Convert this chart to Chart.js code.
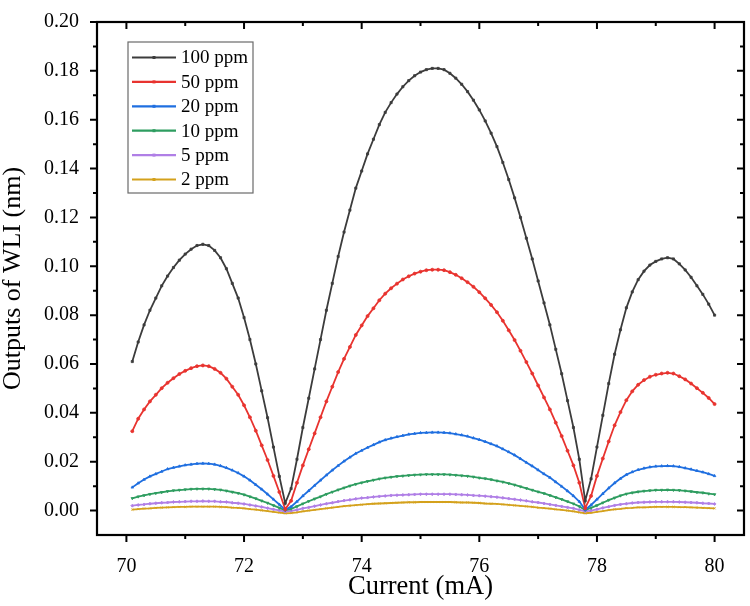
<!DOCTYPE html>
<html>
<head>
<meta charset="utf-8">
<script src="https://cdn.jsdelivr.net/npm/chart.js@4.4.1/dist/chart.umd.min.js"></script>
<style>
  body { margin: 0; background: #fff; }
  #wrap { width: 750px; height: 606px; }
</style>
</head>
<body>
<div id="wrap"><canvas id="wliChart" width="750" height="606"></canvas></div>
<script>
// Current (mA)
const currents = [
  70.1, 70.2, 70.3, 70.4, 70.5, 70.6, 70.7, 70.8, 70.9, 71.0,
  71.1, 71.2, 71.3, 71.4, 71.5, 71.6, 71.7, 71.8, 71.9, 72.0,
  72.1, 72.2, 72.3, 72.4, 72.5, 72.6, 72.7, 72.8, 72.9, 73.0,
  73.1, 73.2, 73.3, 73.4, 73.5, 73.6, 73.7, 73.8, 73.9, 74.0,
  74.1, 74.2, 74.3, 74.4, 74.5, 74.6, 74.7, 74.8, 74.9, 75.0,
  75.1, 75.2, 75.3, 75.4, 75.5, 75.6, 75.7, 75.8, 75.9, 76.0,
  76.1, 76.2, 76.3, 76.4, 76.5, 76.6, 76.7, 76.8, 76.9, 77.0,
  77.1, 77.2, 77.3, 77.4, 77.5, 77.6, 77.7, 77.8, 77.9, 78.0,
  78.1, 78.2, 78.3, 78.4, 78.5, 78.6, 78.7, 78.8, 78.9, 79.0,
  79.1, 79.2, 79.3, 79.4, 79.5, 79.6, 79.7, 79.8, 79.9, 80.0
];

// Outputs of WLI (nm)
const ppm100 = [
  0.061, 0.069, 0.076, 0.082, 0.087, 0.092, 0.096, 0.0995, 0.1025, 0.105,
  0.107, 0.1085, 0.109, 0.1085, 0.1065, 0.1035, 0.099, 0.093, 0.087, 0.079,
  0.070, 0.060, 0.049, 0.038, 0.026, 0.014, 0.003, 0.009, 0.021, 0.034,
  0.046, 0.058, 0.070, 0.082, 0.093, 0.104, 0.114, 0.123, 0.132, 0.139,
  0.146, 0.152, 0.158, 0.163, 0.167, 0.1705, 0.1735, 0.176, 0.178, 0.1795,
  0.1805, 0.181, 0.181, 0.1805, 0.179, 0.177, 0.1745, 0.1715, 0.168, 0.164,
  0.1595, 0.1545, 0.149, 0.1425, 0.1355, 0.128, 0.120, 0.1115, 0.103, 0.094,
  0.085, 0.076, 0.066, 0.056, 0.045, 0.034, 0.021, 0.004, 0.013, 0.026,
  0.039, 0.052, 0.064, 0.074, 0.083, 0.0895, 0.0945, 0.098, 0.1005, 0.102,
  0.103, 0.1035, 0.103, 0.101, 0.0985, 0.0955, 0.092, 0.0885, 0.0845, 0.080
];
const ppm50 = [
  0.0325, 0.0376, 0.0414, 0.0447, 0.0474, 0.0501, 0.0523, 0.0542, 0.0559, 0.0572,
  0.0583, 0.0591, 0.0594, 0.0591, 0.058, 0.0564, 0.054, 0.0507, 0.0474, 0.0431,
  0.0382, 0.0327, 0.0267, 0.0207, 0.0142, 0.0076, 0.0005, 0.004, 0.0114, 0.0185,
  0.0251, 0.0316, 0.0382, 0.0447, 0.0507, 0.0567, 0.0621, 0.067, 0.0719, 0.0758,
  0.0796, 0.0828, 0.0861, 0.0888, 0.091, 0.0929, 0.0946, 0.0959, 0.097, 0.0978,
  0.0984, 0.0986, 0.0986, 0.0984, 0.0976, 0.0965, 0.0951, 0.0935, 0.0916, 0.0894,
  0.0869, 0.0842, 0.0812, 0.0777, 0.0738, 0.0698, 0.0654, 0.0608, 0.0561, 0.0512,
  0.0463, 0.0414, 0.036, 0.0305, 0.0245, 0.0185, 0.0114, 0.001, 0.006, 0.0142,
  0.0213, 0.0283, 0.0349, 0.0403, 0.0452, 0.0488, 0.0515, 0.0534, 0.0548, 0.0556,
  0.0561, 0.0564, 0.0561, 0.055, 0.0537, 0.052, 0.0501, 0.0482, 0.0461, 0.0436
];
const ppm20 = [
  0.0095, 0.0112, 0.0127, 0.014, 0.015, 0.016, 0.017, 0.0176, 0.0181, 0.0186,
  0.0189, 0.0192, 0.0193, 0.0192, 0.0189, 0.0183, 0.0175, 0.0165, 0.0154, 0.014,
  0.0124, 0.0106, 0.0087, 0.0067, 0.0046, 0.0025, 0.0003, 0.0016, 0.0037, 0.006,
  0.0081, 0.0103, 0.0124, 0.0145, 0.0165, 0.0184, 0.0202, 0.0218, 0.0234, 0.0246,
  0.0258, 0.0269, 0.028, 0.0289, 0.0296, 0.0302, 0.0307, 0.0312, 0.0315, 0.0318,
  0.0319, 0.032, 0.032, 0.0319, 0.0317, 0.0313, 0.0309, 0.0304, 0.0297, 0.029,
  0.0282, 0.0273, 0.0264, 0.0252, 0.024, 0.0227, 0.0212, 0.0197, 0.0182, 0.0166,
  0.015, 0.0135, 0.0117, 0.0099, 0.008, 0.006, 0.0037, 0.0004, 0.0023, 0.0046,
  0.0069, 0.0092, 0.0113, 0.0131, 0.0147, 0.0158, 0.0167, 0.0173, 0.0178, 0.0181,
  0.0182, 0.0183, 0.0182, 0.0179, 0.0174, 0.0169, 0.0163, 0.0157, 0.015, 0.0142
];
const ppm10 = [
  0.005, 0.0057, 0.0062, 0.0067, 0.0071, 0.0075, 0.0079, 0.0082, 0.0084, 0.0086,
  0.0088, 0.0089, 0.0089, 0.0089, 0.0087, 0.0085, 0.0081, 0.0076, 0.0071, 0.0065,
  0.0057, 0.0049, 0.004, 0.0031, 0.0021, 0.0011, 0.0001, 0.0007, 0.0017, 0.0028,
  0.0038, 0.0048, 0.0057, 0.0067, 0.0076, 0.0085, 0.0093, 0.0101, 0.0108, 0.0114,
  0.012, 0.0125, 0.013, 0.0134, 0.0137, 0.014, 0.0142, 0.0144, 0.0146, 0.0147,
  0.0148, 0.0148, 0.0148, 0.0148, 0.0147, 0.0145, 0.0143, 0.0141, 0.0138, 0.0134,
  0.0131, 0.0127, 0.0122, 0.0117, 0.0111, 0.0105, 0.0098, 0.0091, 0.0084, 0.0077,
  0.007, 0.0062, 0.0054, 0.0046, 0.0037, 0.0028, 0.0017, 0.0002, 0.0011, 0.0021,
  0.0032, 0.0043, 0.0052, 0.0061, 0.0068, 0.0073, 0.0077, 0.008, 0.0082, 0.0084,
  0.0084, 0.0085, 0.0084, 0.0083, 0.0081, 0.0078, 0.0075, 0.0073, 0.0069, 0.0066
];
const ppm5 = [
  0.002, 0.0023, 0.0025, 0.0028, 0.003, 0.0032, 0.0033, 0.0035, 0.0036, 0.0037,
  0.0038, 0.0038, 0.0039, 0.0038, 0.0038, 0.0036, 0.0035, 0.0032, 0.003, 0.0027,
  0.0023, 0.0019, 0.0015, 0.001, 0.0005, 0.0001, -0.0004, -0.0001, 0.0003, 0.0009,
  0.0013, 0.0018, 0.0023, 0.0028, 0.0032, 0.0037, 0.0041, 0.0044, 0.0048, 0.0051,
  0.0053, 0.0056, 0.0058, 0.006, 0.0062, 0.0063, 0.0064, 0.0065, 0.0066, 0.0067,
  0.0067, 0.0067, 0.0067, 0.0067, 0.0067, 0.0066, 0.0065, 0.0064, 0.0062, 0.0061,
  0.0059, 0.0057, 0.0055, 0.0052, 0.0049, 0.0046, 0.0043, 0.004, 0.0036, 0.0033,
  0.0029, 0.0025, 0.0021, 0.0017, 0.0013, 0.0009, 0.0003, -0.0003, 0, 0.0005,
  0.0011, 0.0016, 0.0021, 0.0025, 0.0028, 0.0031, 0.0033, 0.0034, 0.0035, 0.0036,
  0.0036, 0.0036, 0.0036, 0.0035, 0.0034, 0.0033, 0.0032, 0.003, 0.0029, 0.0027
];
const ppm2 = [
  0.0004, 0.0006, 0.0008, 0.0009, 0.0011, 0.0012, 0.0013, 0.0014, 0.0015, 0.0015,
  0.0016, 0.0016, 0.0016, 0.0016, 0.0016, 0.0015, 0.0014, 0.0012, 0.0011, 0.0009,
  0.0006, 0.0004, 0.0001, -0.0002, -0.0005, -0.0008, -0.0011, -0.001, -0.0007, -0.0003,
  0, 0.0003, 0.0006, 0.0009, 0.0012, 0.0015, 0.0018, 0.002, 0.0022, 0.0024,
  0.0026, 0.0028, 0.0029, 0.003, 0.0031, 0.0032, 0.0033, 0.0034, 0.0034, 0.0035,
  0.0035, 0.0035, 0.0035, 0.0035, 0.0035, 0.0034, 0.0033, 0.0033, 0.0032, 0.0031,
  0.0029, 0.0028, 0.0027, 0.0025, 0.0023, 0.0021, 0.0019, 0.0017, 0.0015, 0.0012,
  0.001, 0.0008, 0.0005, 0.0003, 0, -0.0003, -0.0007, -0.0011, -0.0009, -0.0005,
  -0.0002, 0.0002, 0.0005, 0.0007, 0.001, 0.0011, 0.0013, 0.0013, 0.0014, 0.0015,
  0.0015, 0.0015, 0.0015, 0.0014, 0.0014, 0.0013, 0.0012, 0.0011, 0.001, 0.0009
];

const seriesNames = ['100 ppm', '50 ppm', '20 ppm', '10 ppm', '5 ppm', '2 ppm'];
const xTicks = [70, 72, 74, 76, 78, 80];
const yTicks = [0.00, 0.02, 0.04, 0.06, 0.08, 0.10, 0.12, 0.14, 0.16, 0.18, 0.20];

const allSeries = [ppm100, ppm50, ppm20, ppm10, ppm5, ppm2];
const colors = ['#3c3c3c', '#e8332f', '#1f6fe0', '#2e9d60', '#b07fe6', '#d4a11c'];
const shapes = ['rect', 'circle', 'triangle', 'triangle', 'rectRot', 'crossRot'];
const serif = "'Liberation Serif', 'Times New Roman', serif";

function toPoints(vals) {
    return currents.map((x, i) => ({ x: x, y: vals[i] }));
}

// frame with inward/outward ticks + legend box inside the plot
const frameAndLegend = {
    id: 'frameAndLegend',
    afterDraw(chart) {
        const ctx = chart.ctx;
        const a = chart.chartArea;
        const xs = chart.scales.x, ys = chart.scales.y;
        ctx.save();
        ctx.strokeStyle = '#000';
        ctx.lineWidth = 2.2;
        ctx.strokeRect(a.left, a.top, a.right - a.left, a.bottom - a.top);

        ctx.lineWidth = 2;
        ctx.beginPath();
        for (let v = 70; v <= 80; v++) {
            const px = xs.getPixelForValue(v);
            const len = v % 2 === 0 ? 7 : 4;
            ctx.moveTo(px, a.bottom); ctx.lineTo(px, a.bottom + len);
            ctx.moveTo(px, a.top); ctx.lineTo(px, a.top + len);
        }
        for (let k = 0; k <= 20; k++) {
            const py = ys.getPixelForValue(k / 100);
            const len = k % 2 === 0 ? 7 : 4;
            ctx.moveTo(a.left, py); ctx.lineTo(a.left - len, py);
            ctx.moveTo(a.right, py); ctx.lineTo(a.right - len, py);
        }
        ctx.stroke();

        // legend
        const bx = 128, by = 42, bw = 125, bh = 151;
        ctx.lineWidth = 1.2;
        ctx.strokeStyle = '#6a6a6a';
        ctx.strokeRect(bx, by, bw, bh);
        ctx.font = '19px ' + serif;
        ctx.textBaseline = 'middle';
        ctx.textAlign = 'left';
        chart.data.datasets.forEach((ds, i) => {
            const y = 57.5 + i * 24.4;
            ctx.strokeStyle = ds.borderColor;
            ctx.lineWidth = 2.2;
            ctx.beginPath();
            ctx.moveTo(132, y); ctx.lineTo(176, y);
            ctx.stroke();
            ctx.fillStyle = ds.borderColor;
            ctx.fillRect(152.5, y - 1.5, 3, 3);
            ctx.fillStyle = '#000';
            ctx.fillText(ds.label, 181, y + 1);
        });
        ctx.restore();
    }
};

const ctx = document.getElementById('wliChart').getContext('2d');
new Chart(ctx, {
    type: 'line',
    data: {
        datasets: allSeries.map((vals, i) => ({
            label: seriesNames[i],
            data: toPoints(vals),
            borderColor: colors[i],
            backgroundColor: colors[i],
            borderWidth: 1.8,
            pointRadius: 1.5,
            pointStyle: shapes[i],
            pointRotation: i === 3 ? 180 : 0,
            pointBorderWidth: 0.8,
            tension: 0,
            fill: false
        }))
    },
    options: {
        responsive: false,
        animation: false,
        devicePixelRatio: 1,
        layout: { padding: { top: 12, right: 6, left: 0, bottom: 0 } },
        plugins: {
            legend: { display: false },
            tooltip: { enabled: false }
        },
        scales: {
            x: {
                type: 'linear',
                min: 69.5,
                max: 80.5,
                grid: { display: false },
                border: { display: false },
                afterBuildTicks: (s) => { s.ticks = xTicks.map(v => ({ value: v })); },
                afterFit: (s) => { s.height = 71; },
                ticks: {
                    color: '#000',
                    padding: 12,
                    maxRotation: 0,
                    font: { family: serif, size: 20 },
                    callback: (v) => String(v)
                },
                title: {
                    display: true,
                    text: 'Current (mA)',
                    color: '#000',
                    padding: { top: 0, bottom: 3 },
                    font: { family: serif, size: 26.5 }
                }
            },
            y: {
                min: -0.01,
                max: 0.20,
                grid: { display: false },
                border: { display: false },
                afterBuildTicks: (s) => { s.ticks = yTicks.map(v => ({ value: v })); },
                afterFit: (s) => { s.width = 97; },
                ticks: {
                    color: '#000',
                    padding: 10,
                    font: { family: serif, size: 20 },
                    callback: (v) => v.toFixed(2)
                },
                title: {
                    display: true,
                    text: 'Outputs of WLI (nm)',
                    color: '#000',
                    padding: 0,
                    font: { family: serif, size: 26, lineHeight: 1 }
                }
            }
        }
    },
    plugins: [frameAndLegend]
});
</script>
</body>
</html>
